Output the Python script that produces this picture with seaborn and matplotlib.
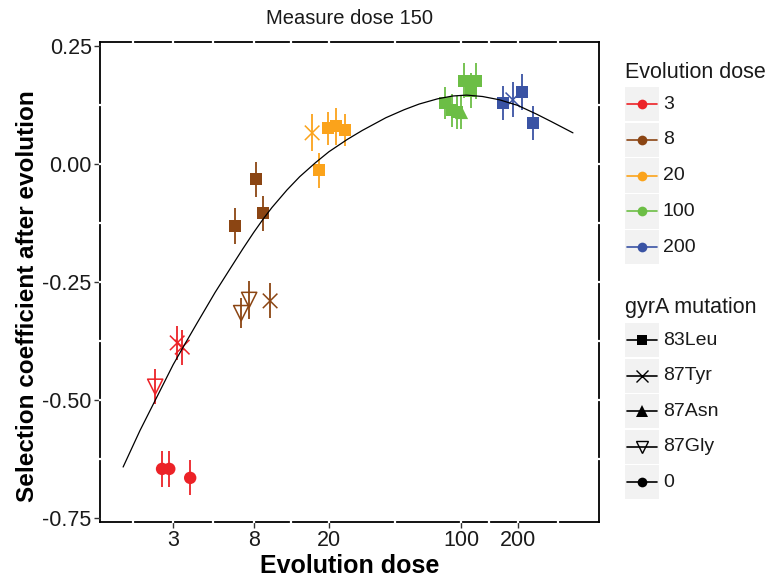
import numpy as np
import pandas as pd
import matplotlib
matplotlib.use("Agg")
import matplotlib.pyplot as plt
import seaborn as sns
from matplotlib.lines import Line2D
from matplotlib.patches import Rectangle
from matplotlib.ticker import FixedLocator, FixedFormatter, NullLocator

# ---------------- data ----------------
dose_levels = ["3", "8", "20", "100", "200"]
dose_colors = ["#EC2227", "#8B4513", "#FBA31B", "#6CBE45", "#3A53A4"]
mutation_levels = ["83Leu", "87Tyr", "87Asn", "87Gly", "0"]

evol_dose = ["3", "3", "3", "3", "3", "3",
             "8", "8", "8", "8", "8", "8",
             "20", "20", "20", "20", "20",
             "100", "100", "100", "100", "100", "100", "100",
             "200", "200", "200", "200"]
x_pos = [2.41, 3.15, 3.35, 2.62, 2.86, 3.69,
         6.38, 8.24, 8.98, 6.87, 7.57, 9.77,
         16.3, 17.7, 19.8, 21.8, 24.4,
         82.3, 89.6, 95.3, 100.0, 103.7, 113.0, 120.0,
         167.0, 188.0, 210.0, 240.0]
sel_coef = [-0.472, -0.379, -0.388, -0.646, -0.646, -0.665,
            -0.131, -0.032, -0.104, -0.316, -0.288, -0.290,
            0.066, -0.013, 0.076, 0.080, 0.072,
            0.129, 0.114, 0.110, 0.110, 0.176, 0.155, 0.176,
            0.129, 0.136, 0.153, 0.087]
sel_err = [0.037, 0.036, 0.037, 0.038, 0.038, 0.037,
           0.038, 0.037, 0.037, 0.032, 0.040, 0.037,
           0.039, 0.037, 0.035, 0.039, 0.034,
           0.034, 0.035, 0.035, 0.035, 0.037, 0.037, 0.039,
           0.036, 0.037, 0.038, 0.036]
mutation = ["87Gly", "87Tyr", "87Tyr", "0", "0", "0",
            "83Leu", "83Leu", "83Leu", "87Gly", "87Gly", "87Tyr",
            "87Tyr", "83Leu", "83Leu", "83Leu", "83Leu",
            "83Leu", "83Leu", "83Leu", "87Asn", "83Leu", "83Leu", "83Leu",
            "83Leu", "87Tyr", "83Leu", "83Leu"]

curve_dose = [1.63, 2.0, 2.5, 3.0, 3.5, 4.0, 5.0, 6.0, 7.0, 8.0, 9.0, 10.0,
              12.0, 14.0, 17.0, 20.0, 25.0, 30.0, 40.0, 50.0, 60.0, 75.0,
              90.0, 107.0, 130.0, 160.0, 200.0, 250.0, 300.0, 391.0]
curve_sel = [-0.642, -0.565, -0.488, -0.425, -0.378, -0.338, -0.272, -0.222,
             -0.180, -0.145, -0.116, -0.092, -0.055, -0.027, 0.003, 0.026,
             0.052, 0.071, 0.098, 0.115, 0.127, 0.138, 0.144, 0.146, 0.143,
             0.136, 0.124, 0.106, 0.090, 0.066]

x_ticks = [3, 8, 20, 100, 200]
x_tick_labels = ["3", "8", "20", "100", "200"]
y_ticks = [0.25, 0.0, -0.25, -0.50, -0.75]
y_tick_labels = ["0.25", "0.00", "-0.25", "-0.50", "-0.75"]

# ---------------- style ----------------
sns.set_style("white")
plt.rcParams["font.family"] = ["Liberation Sans", "DejaVu Sans"]

W, H = 774, 583
fig = plt.figure(figsize=(W / 100, H / 100), dpi=100)
ax = fig.add_axes([100 / W, 1 - 522 / H, 499 / W, 480 / H])
ax.set_xscale("log")

df = pd.DataFrame(dict(evol=evol_dose, x=x_pos, y=sel_coef, err=sel_err, mut=mutation))
pal = dict(zip(dose_levels, dose_colors))

# error bars
for lvl in dose_levels:
    sub = df[df.evol == lvl]
    ax.errorbar(sub.x, sub.y, yerr=sub.err, fmt="none", ecolor=pal[lvl],
                elinewidth=1.3, capsize=0, zorder=2)

# filled markers
filled = {"83Leu": ("s", 80), "87Asn": ("^", 90), "0": ("o", 80)}
for m, (mk, sz) in filled.items():
    sub = df[df.mut == m]
    sns.scatterplot(data=sub, x="x", y="y", hue="evol", hue_order=dose_levels,
                    palette=pal, marker=mk, s=sz, linewidth=0, legend=False,
                    ax=ax, zorder=3)

# x markers
sub = df[df.mut == "87Tyr"]
sns.scatterplot(data=sub, x="x", y="y", hue="evol", hue_order=dose_levels,
                palette=pal, marker="x", s=110, linewidth=1.1, legend=False,
                ax=ax, zorder=3)

# open down triangles
sub = df[df.mut == "87Gly"]
sns.scatterplot(data=sub, x="x", y="y", hue="evol", hue_order=dose_levels,
                palette=pal, marker="v", s=120, linewidth=1.1, legend=False,
                ax=ax, zorder=3)
coll = ax.collections[-1]
fc = coll.get_facecolors()
coll.set_edgecolors(fc)
coll.set_facecolors("none")
coll.set_linewidth(1.1)

# fitted curve
sns.lineplot(x=curve_dose, y=curve_sel, color="black", linewidth=0.9,
             sort=False, ax=ax, zorder=4)

ax.set_xlim(1.23, 537)
ax.set_ylim(-0.7585, 0.2585)

ax.xaxis.set_major_locator(FixedLocator(x_ticks))
ax.xaxis.set_major_formatter(FixedFormatter(x_tick_labels))
ax.xaxis.set_minor_locator(NullLocator())
ax.yaxis.set_major_locator(FixedLocator(y_ticks))
ax.yaxis.set_major_formatter(FixedFormatter(y_tick_labels))

ax.tick_params(axis="both", which="major", direction="out", length=4, width=1,
               color="#333333", labelsize=15.5, labelcolor="#1a1a1a", pad=2,
               bottom=True, left=True)

for sp in ax.spines.values():
    sp.set_visible(True)
    sp.set_color("black")
    sp.set_linewidth(1.3)
    sp.set_zorder(0.5)

# white grid lines drawn over the panel border (ggplot-like)
for v in [1.84, 3, 4.9, 8, 12.65, 20, 44.7, 100, 141, 200, 326]:
    ax.axvline(v, color="white", lw=1.6, zorder=1, clip_on=False,
               solid_capstyle="projecting")
for v in [0.125, 0.0, -0.125, -0.25, -0.375, -0.5, -0.625]:
    ax.axhline(v, color="white", lw=1.6, zorder=1, clip_on=False,
               solid_capstyle="projecting")

ax.set_xlabel("Evolution dose", fontsize=18, fontweight="bold", color="black")
ax.xaxis.label.set_va("center")
ax.xaxis.set_label_coords(0.5, -(566 - 522) / 480)
ax.set_ylabel("Selection coefficient after evolution", fontsize=17.5,
              fontweight="bold", color="black")
ax.yaxis.label.set_va("center")
ax.yaxis.set_label_coords(-(100 - 28) / 499, (522 - 296) / 480)
ax.set_title("Measure dose 150", fontsize=14.5, color="#1a1a1a",
             y=1 + (42 - 18) / 480, va="center", pad=0)

# ---------------- legends (ggplot style) ----------------
lax = fig.add_axes([0, 0, 1, 1])
lax.set_xlim(0, W)
lax.set_ylim(H, 0)
lax.axis("off")

lab_fs = 14
lax.text(625, 72, "Evolution dose", fontsize=15.5, va="center", ha="left",
         color="#1a1a1a")
for i, lvl in enumerate(dose_levels):
    top = 87 + i * 35.7
    cy = top + 17.2
    lax.add_patch(Rectangle((625, top), 34, 34.4, color="#F2F2F2", lw=0))
    lax.add_line(Line2D([627, 657], [cy, cy], color=pal[lvl], lw=1.2))
    lax.add_line(Line2D([642], [cy], color=pal[lvl], marker="o", ms=7, mew=0))
    lax.text(663, cy, lvl, fontsize=lab_fs, va="center", ha="left", color="#1a1a1a")

lax.text(625, 307, "gyrA mutation", fontsize=15.5, va="center", ha="left",
         color="#1a1a1a")
key_markers = {"83Leu": dict(marker="s", ms=7, mew=0),
               "87Tyr": dict(marker="x", ms=8, mew=1.0),
               "87Asn": dict(marker="^", ms=8, mew=0),
               "87Gly": dict(marker="v", ms=8, mew=1.0, mfc="none"),
               "0": dict(marker="o", ms=7, mew=0)}
for i, m in enumerate(mutation_levels):
    top = 323 + i * 35.5
    cy = top + 17.2
    lax.add_patch(Rectangle((625, top), 34, 34.4, color="#F2F2F2", lw=0))
    lax.add_line(Line2D([627, 657], [cy, cy], color="black", lw=1.2))
    lax.add_line(Line2D([642], [cy], color="black", mec="black", **key_markers[m]))
    lax.text(663, cy, m, fontsize=lab_fs, va="center", ha="left", color="#1a1a1a")

fig.savefig("out.png", dpi=100)
